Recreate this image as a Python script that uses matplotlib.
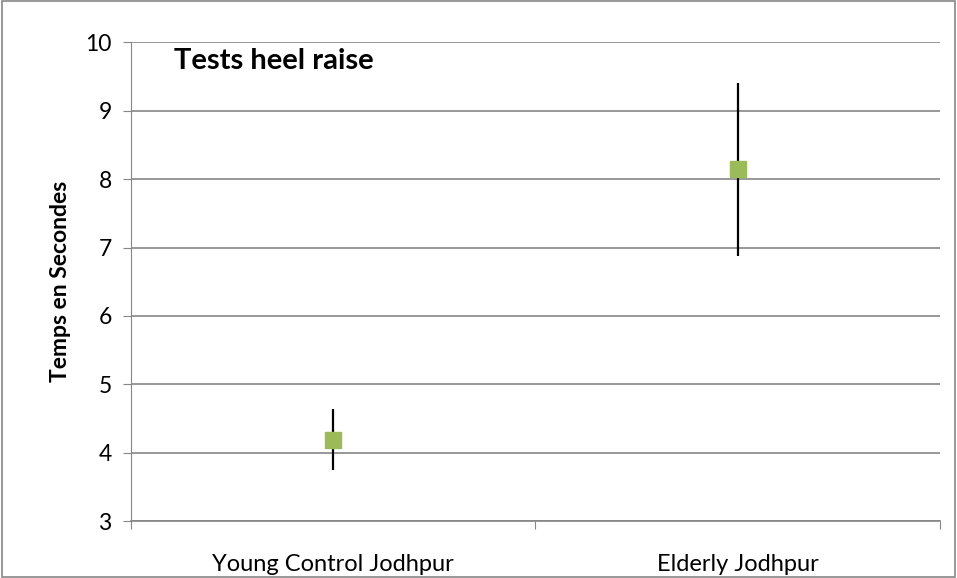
import matplotlib.pyplot as plt
from matplotlib.patches import Rectangle

plt.rcParams['font.family'] = ['Lato', 'DejaVu Sans']

# données
groupes = ['Young Control Jodhpur', 'Elderly Jodhpur']
moyennes = [4.19, 8.15]
err_haut = [0.45, 1.25]
err_bas = [0.45, 1.28]

fig = plt.figure(figsize=(9.57, 5.78), dpi=100)
ax = fig.add_axes([0.137, 0.0986, 0.845, 0.828])

x = [0.5, 1.5]
ax.errorbar(x, moyennes, yerr=[err_bas, err_haut], fmt='none', ecolor='black',
            elinewidth=1.6, capsize=0, zorder=3)
ax.plot(x, moyennes, 's', color='#9bbb59', markersize=11.5, markeredgecolor='#9bbb59', zorder=4)

ax.set_xlim(0, 2)
ax.set_ylim(3, 10)
ax.set_yticks(range(3, 11))
ax.set_xticks([0, 1, 2])
ax.set_xticklabels([])
ax.set_xticks(x, minor=True)
ax.set_xticklabels(groupes, minor=True)
ax.tick_params(axis='x', which='minor', length=0, pad=24, labelsize=17)
ax.tick_params(axis='x', which='major', length=6, color='#868686', direction='out')
ax.tick_params(axis='y', length=6, color='#868686', direction='out', labelsize=16.5, pad=8)
ax.yaxis.grid(True, color='#868686', linewidth=1.2)
ax.set_axisbelow(True)
for s in ['top', 'right']:
    ax.spines[s].set_visible(False)
ax.spines['left'].set_color('#868686')
ax.spines['bottom'].set_color('#868686')
ax.spines['bottom'].set_linewidth(1.2)

ax.set_ylabel('Temps en Secondes', fontsize=16.5, fontweight='bold', labelpad=10)
ax.text(0.053, 0.962, 'Tests heel raise', transform=ax.transAxes, fontsize=21,
        fontweight='bold', va='center')

fig.patches.append(Rectangle((0.002, 0.002), 0.996, 0.996, transform=fig.transFigure,
                             fill=False, edgecolor='#868686', linewidth=1.2))

fig.savefig('out.png', dpi=100)
